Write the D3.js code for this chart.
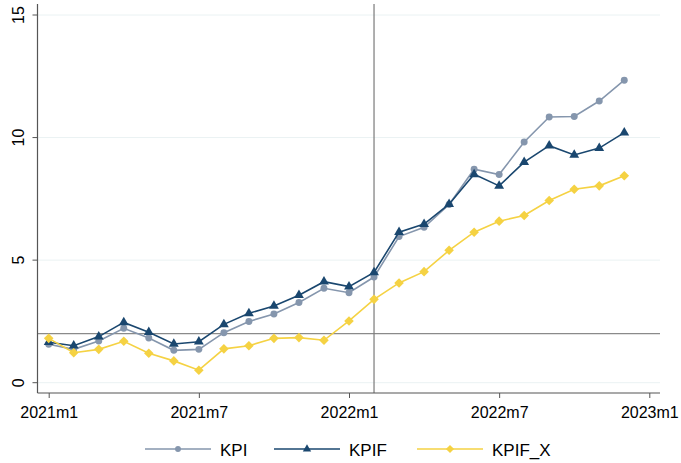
<!DOCTYPE html>
<html>
<head>
<meta charset="utf-8">
<script src="https://cdn.jsdelivr.net/npm/d3@7"></script>
<style>
  body { margin: 0; background: #fff; }
  svg { display: block; font-family: "Liberation Sans", Arial, sans-serif; }
</style>
</head>
<body>
<svg id="chart" width="681" height="463"></svg>
<script>
(function () {

  // monthly observations, 2021m1 .. 2022m12 (index 0 = 2021m1)
  const MONTHS = d3.range(24);
  const KPI = [1.57, 1.36, 1.70, 2.22, 1.82, 1.32, 1.36, 2.04, 2.50, 2.80, 3.27, 3.85,
               3.67, 4.31, 5.96, 6.34, 7.27, 8.71, 8.49, 9.82, 10.84, 10.86, 11.49, 12.34];
  const KPIF = [1.65, 1.51, 1.88, 2.46, 2.06, 1.58, 1.67, 2.38, 2.83, 3.13, 3.57, 4.12,
                3.92, 4.50, 6.14, 6.47, 7.28, 8.50, 8.03, 9.00, 9.67, 9.29, 9.57, 10.20];
  const KPIF_X = [1.81, 1.22, 1.36, 1.69, 1.20, 0.89, 0.51, 1.38, 1.51, 1.81, 1.84, 1.73,
                  2.52, 3.40, 4.07, 4.53, 5.40, 6.14, 6.59, 6.82, 7.43, 7.89, 8.03, 8.44];
  // diamond = square turned 45 degrees (Stata style, not the tall d3 diamond)
  const SERIES = [
    { name: "KPI", values: KPI, color: "#8596ad", symbol: d3.symbolCircle, size: 38, rot: 0 },
    { name: "KPIF", values: KPIF, color: "#1a476f", symbol: d3.symbolTriangle, size: 42, rot: 0 },
    { name: "KPIF_X", values: KPIF_X, color: "#f5d243", symbol: d3.symbolSquare, size: 46, rot: 45 }
  ];
  const X_TICKS = [0, 6, 12, 18, 24];
  const X_LABELS = ["2021m1", "2021m7", "2022m1", "2022m7", "2023m1"];
  const Y_TICKS = [0, 5, 10, 15];
  const REF_X = 13;   // 2022m2
  const REF_Y = 2;

  const svg = d3.select("#chart");

  // plot region
  const left = 37.5, right = 660, top = 4, bottom = 393;

  const x = d3.scaleLinear().domain([0, 24]).range([48.7, 649.3]);
  const y = d3.scaleLinear().domain([0, 15]).range([382.7, 15]);

  // grid
  svg.append("g")
    .selectAll("line")
    .data(Y_TICKS)
    .enter().append("line")
    .attr("x1", left).attr("x2", right)
    .attr("y1", d => y(d)).attr("y2", d => y(d))
    .attr("stroke", "#eaf2f3")
    .attr("stroke-width", 1);

  // reference lines
  svg.append("line")
    .attr("x1", left).attr("x2", right)
    .attr("y1", y(REF_Y)).attr("y2", y(REF_Y))
    .attr("stroke", "#8a8a8a").attr("stroke-width", 1.2);
  svg.append("line")
    .attr("x1", x(REF_X)).attr("x2", x(REF_X))
    .attr("y1", top).attr("y2", bottom)
    .attr("stroke", "#7a7a7a").attr("stroke-width", 1.2);

  // y axis (labels rotated, Stata style)
  const yAxis = d3.axisLeft(y).tickValues(Y_TICKS).tickSize(5);
  const gy = svg.append("g").attr("transform", `translate(${left},0)`).call(yAxis);
  gy.select(".domain").remove();
  gy.selectAll(".tick").attr("transform", null);
  gy.selectAll(".tick line")
    .attr("stroke", "#555")
    .attr("y1", d => y(d)).attr("y2", d => y(d))
    .attr("x1", -5).attr("x2", 0);
  gy.selectAll(".tick text")
    .attr("x", 0).attr("y", 0).attr("dy", null)
    .attr("transform", d => `translate(-14,${y(d)}) rotate(-90)`)
    .attr("text-anchor", "middle")
    .style("font-size", "16px")
    .style("fill", "#000");

  svg.append("line")
    .attr("x1", left).attr("x2", left)
    .attr("y1", top).attr("y2", bottom)
    .attr("stroke", "#555").attr("stroke-width", 1.2);

  // x axis
  const xAxis = d3.axisBottom(x).tickValues(X_TICKS)
    .tickFormat((d, i) => X_LABELS[i]).tickSize(5).tickPadding(9);
  const gx = svg.append("g").attr("transform", `translate(0,${bottom})`).call(xAxis);
  gx.select(".domain").remove();
  gx.selectAll(".tick line").attr("stroke", "#555");
  gx.selectAll(".tick text").style("font-size", "16px").style("fill", "#000");
  svg.append("line")
    .attr("x1", left).attr("x2", right)
    .attr("y1", bottom).attr("y2", bottom)
    .attr("stroke", "#555").attr("stroke-width", 1.2);

  // lines and markers
  const line = d3.line().x((d, i) => x(MONTHS[i])).y(d => y(d));

  SERIES.forEach(s => {
    svg.append("path")
      .datum(s.values)
      .attr("d", line)
      .attr("fill", "none")
      .attr("stroke", s.color)
      .attr("stroke-width", 1.6);
    svg.append("g")
      .selectAll("path")
      .data(s.values)
      .enter().append("path")
      .attr("transform", (d, i) => `translate(${x(MONTHS[i])},${y(d)}) rotate(${s.rot})`)
      .attr("d", d3.symbol().type(s.symbol).size(s.size))
      .attr("fill", s.color);
  });

  // legend
  const legendX = [145, 274, 417];
  const legend = svg.append("g").attr("transform", "translate(0,449)");
  SERIES.forEach((s, i) => {
    const g = legend.append("g").attr("transform", `translate(${legendX[i]},0)`);
    g.append("line").attr("x1", 0).attr("x2", 66).attr("y1", 0).attr("y2", 0)
      .attr("stroke", s.color).attr("stroke-width", 1.6);
    g.append("path")
      .attr("transform", `translate(33,0) rotate(${s.rot})`)
      .attr("d", d3.symbol().type(s.symbol).size(s.size * 0.72))
      .attr("fill", s.color);
    g.append("text")
      .attr("x", 75).attr("y", 6.5)
      .style("font-size", "17px")
      .text(s.name);
  });

})();
</script>
</body>
</html>
